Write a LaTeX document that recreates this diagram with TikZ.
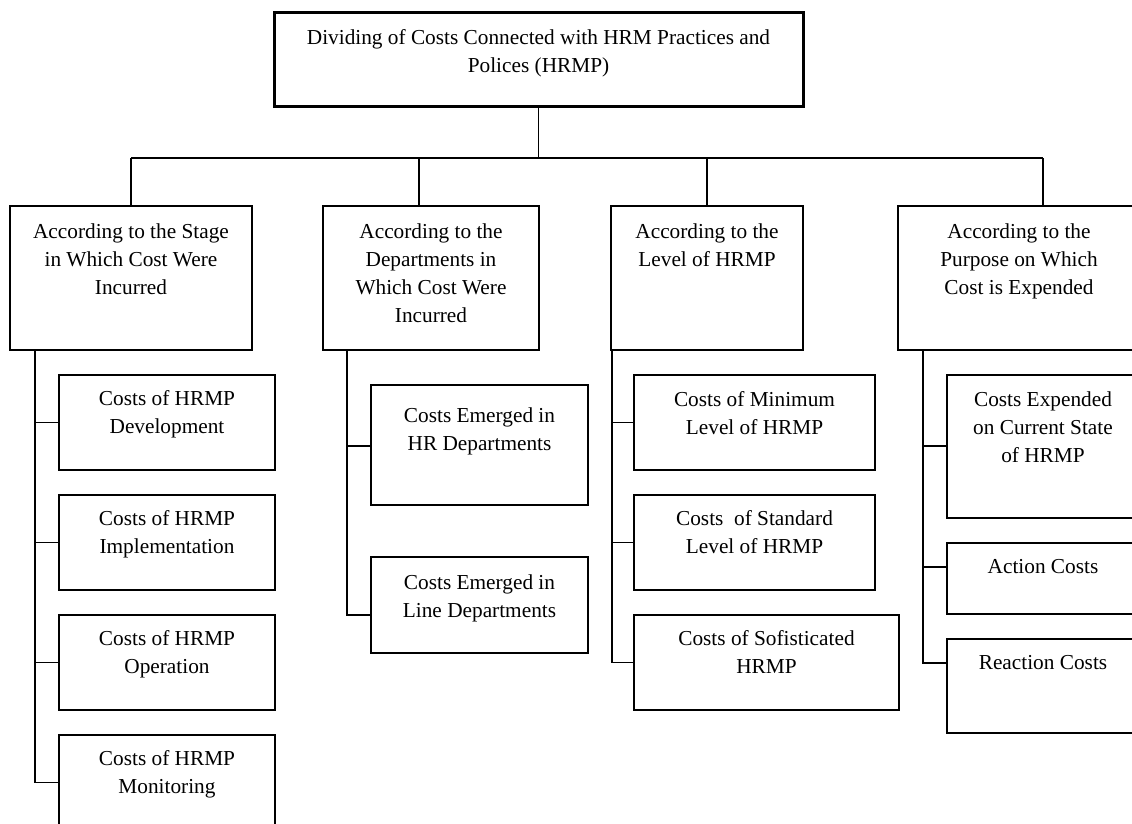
\documentclass[tikz,border=0pt]{standalone}
\usepackage{fontspec}
\setmainfont{Liberation Serif}
\newcommand\mkbox[6]{\node[#6, minimum width={#4-#2}, minimum height={#5-#3}, anchor=north west] (#1) at (#2,#3) {};}
\tikzset{
  topbox/.style={draw, line width=3pt, inner sep=0pt, outer sep=0pt},
  midbox/.style={draw, line width=2pt, inner sep=0pt, outer sep=0pt},
  leafbox/.style={draw, line width=1.5pt, inner sep=0pt, outer sep=0pt},
  lbl/.style={inner sep=0pt, outer sep=0pt, align=center, anchor=north, font=\fontsize{21.3}{28}\selectfont},
  conn/.style={line width=1.6pt},
}
\begin{document}
\begin{tikzpicture}[x=1pt,y=-1pt]
\useasboundingbox (0,0) rectangle (1132,824);
\clip (0,0) rectangle (1132,824);
% top
\mkbox{top}{274}{13}{803}{107}{topbox}
\node[lbl] (ttop) at (538.5,29.5) {Dividing of Costs Connected with HRM Practices and\\Polices (HRMP)};
% level 2
\mkbox{B1}{10}{206}{252}{350}{midbox}
\node[lbl] (tB1) at (131,223.5) {According to the Stage\\in Which Cost Were\\Incurred};
\mkbox{B2}{323}{206}{539}{350}{midbox}
\node[lbl] (tB2) at (431,223.5) {According to the\\Departments in\\Which Cost Were\\Incurred};
\mkbox{B3}{611}{206}{803}{350}{midbox}
\node[lbl] (tB3) at (707,223.5) {According to the\\Level of HRMP};
\mkbox{B4}{898}{206}{1140}{350}{midbox}
\node[lbl] (tB4) at (1019,223.5) {According to the\\Purpose on Which\\Cost is Expended};
% column 1
\mkbox{L11}{59}{375}{275}{470}{leafbox}
\node[lbl] (tL11) at (167,390.5) {Costs of HRMP\\Development};
\mkbox{L12}{59}{495}{275}{590}{leafbox}
\node[lbl] (tL12) at (167,510.5) {Costs of HRMP\\Implementation};
\mkbox{L13}{59}{615}{275}{710}{leafbox}
\node[lbl] (tL13) at (167,630.5) {Costs of HRMP\\Operation};
\mkbox{L14}{59}{735}{275}{830}{leafbox}
\node[lbl] (tL14) at (167,750.5) {Costs of HRMP\\Monitoring};
% column 2
\mkbox{L21}{371}{385}{588}{505}{leafbox}
\node[lbl] (tL21) at (479.5,407.5) {Costs Emerged in\\HR Departments};
\mkbox{L22}{371}{557}{588}{653}{leafbox}
\node[lbl] (tL22) at (479.5,574.5) {Costs Emerged in\\Line Departments};
% column 3
\mkbox{L31}{634}{375}{875}{470}{leafbox}
\node[lbl] (tL31) at (754.5,391.5) {Costs of Minimum\\Level of HRMP};
\mkbox{L32}{634}{495}{875}{590}{leafbox}
\node[lbl] (tL32) at (754.5,510.5) {Costs\ \ of Standard\\Level of HRMP};
\mkbox{L33}{634}{615}{899}{710}{leafbox}
\node[lbl] (tL33) at (766.5,630.5) {Costs of Sofisticated\\HRMP};
% column 4
\mkbox{L41}{947}{375}{1139}{518}{leafbox}
\node[lbl] (tL41) at (1043,391.5) {Costs Expended\\on Current State\\of HRMP};
\mkbox{L42}{947}{543}{1139}{614}{leafbox}
\node[lbl] (tL42) at (1043,559.5) {Action Costs};
\mkbox{L43}{947}{639}{1139}{733}{leafbox}
\node[lbl] (tL43) at (1043,655.5) {Reaction Costs};
% bus
\coordinate (j1) at (131,158);
\coordinate (j2) at (419,158);
\coordinate (j3) at (707,158);
\coordinate (j4) at (1043,158);
\draw[conn] (top.south) -- (top.south |- j1);
\draw[conn] (j1) -- (j4);
\draw[conn] (j1) -- (j1 |- B1.north);
\draw[conn] (j2) -- (j2 |- B2.north);
\draw[conn] (j3) -- (j3 |- B3.north);
\draw[conn] (j4) -- (j4 |- B4.north);
% branch points
\coordinate (b11) at (35,422.5);
\coordinate (b12) at (35,542.5);
\coordinate (b13) at (35,662.5);
\coordinate (b14) at (35,782.5);
\coordinate (b21) at (347,446);
\coordinate (b22) at (347,615);
\coordinate (b31) at (612,422.5);
\coordinate (b32) at (612,542.5);
\coordinate (b33) at (612,662.5);
\coordinate (b41) at (923,446);
\coordinate (b42) at (923,567);
\coordinate (b43) at (923,663);
% column 1 spine
\draw[conn] (b14 |- B1.south) -- (b14) -- (b14 -| L14.west);
\draw[conn] (b11) -- (b11 -| L11.west);
\draw[conn] (b12) -- (b12 -| L12.west);
\draw[conn] (b13) -- (b13 -| L13.west);
% column 2 spine
\draw[conn] (b22 |- B2.south) -- (b22) -- (b22 -| L22.west);
\draw[conn] (b21) -- (b21 -| L21.west);
% column 3 spine
\draw[conn] (b33 |- B3.south) -- (b33) -- (b33 -| L33.west);
\draw[conn] (b31) -- (b31 -| L31.west);
\draw[conn] (b32) -- (b32 -| L32.west);
% column 4 spine
\draw[conn] (b43 |- B4.south) -- (b43) -- (b43 -| L43.west);
\draw[conn] (b41) -- (b41 -| L41.west);
\draw[conn] (b42) -- (b42 -| L42.west);
\end{tikzpicture}
\end{document}
